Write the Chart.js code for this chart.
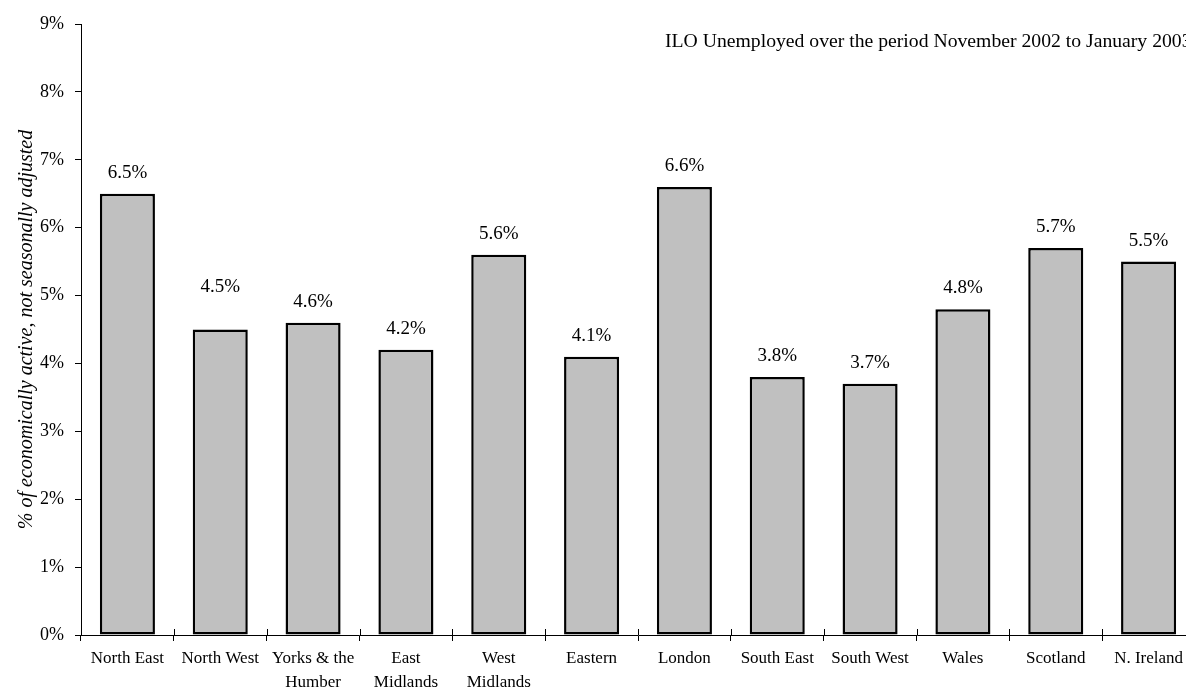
<!DOCTYPE html>
<html>
<head>
<meta charset="utf-8">
<script src="https://cdn.jsdelivr.net/npm/chart.js@4.4.1/dist/chart.umd.min.js"></script>
<style>
html, body { margin: 0; padding: 0; overflow: hidden; background: #fff; }
#wrap { position: relative; width: 1200px; height: 689px; }
</style>
</head>
<body>
<div id="wrap"><canvas id="c"></canvas></div>
<script>
const categories = [
  'North East', 'North West', ['Yorks & the', 'Humber'], ['East', 'Midlands'],
  ['West', 'Midlands'], 'Eastern', 'London', 'South East', 'South West',
  'Wales', 'Scotland', 'N. Ireland'
];
const unemploymentRate = [6.5, 4.5, 4.6, 4.2, 5.6, 4.1, 6.6, 3.8, 3.7, 4.8, 5.7, 5.5];
const yTicks = [0, 1, 2, 3, 4, 5, 6, 7, 8, 9];
const titleText = 'ILO Unemployed over the period November 2002 to January 2003';
const yAxisTitle = '% of economically active, not seasonally adjusted';

const SERIF = '"Liberation Serif", "Times New Roman", serif';

const labelPlugin = {
  id: 'valueLabels',
  afterDatasetsDraw(chart, args, opts) {
    const ctx = chart.ctx;
    const meta = chart.getDatasetMeta(0);
    ctx.save();
    ctx.font = opts.font;
    ctx.fillStyle = '#000';
    ctx.textAlign = 'center';
    ctx.textBaseline = 'alphabetic';
    meta.data.forEach((bar, i) => {
      const v = chart.data.datasets[0].data[i];
      const lift = opts.lift + (opts.extraLift[i] || 0);
      ctx.fillText(v.toFixed(1) + '%', bar.x, bar.y - lift);
    });
    ctx.restore();
  }
};

const annotPlugin = {
  id: 'annot',
  afterDraw(chart, args, opts) {
    const ctx = chart.ctx;
    const a = chart.chartArea;
    ctx.save();
    ctx.font = opts.font;
    ctx.fillStyle = '#000';
    ctx.textAlign = 'left';
    ctx.textBaseline = 'alphabetic';
    ctx.fillText(opts.text, a.left + opts.dx, a.top + opts.dy);
    // inward half of x-axis tick marks (ticks cross the axis)
    const xs = chart.scales.x;
    const n = chart.data.labels.length;
    const w = (xs.right - xs.left) / n;
    ctx.strokeStyle = '#000';
    ctx.lineWidth = 1;
    ctx.beginPath();
    for (let i = 1; i < n; i++) {
      const x = Math.round(xs.left + i * w) + 0.5;
      ctx.moveTo(x, a.bottom);
      ctx.lineTo(x, a.bottom - 6);
    }
    ctx.stroke();
    ctx.restore();
  }
};

new Chart(document.getElementById('c'), {
  type: 'bar',
  data: {
    labels: categories,
    datasets: [{
      data: unemploymentRate,
      backgroundColor: '#c0c0c0',
      borderColor: '#000',
      borderWidth: 2.5,
      borderSkipped: false,
      barPercentage: 0.593,
      categoryPercentage: 1.0
    }]
  },
  options: {
    responsive: true,
    maintainAspectRatio: false,
    animation: false,
    layout: { padding: { top: 24, right: 5, left: 0, bottom: 0 } },
    plugins: {
      legend: { display: false },
      tooltip: { enabled: false },
      valueLabels: { font: '19px ' + SERIF, lift: 16, extraLift: [0, 22] },
      annot: { font: '19.7px ' + SERIF, text: titleText, dx: 584, dy: 23 }
    },
    scales: {
      x: {
        grid: { display: true, drawOnChartArea: false, drawTicks: true, tickLength: 6, color: '#000', offset: true },
        border: { display: true, color: '#000', width: 1 },
        ticks: {
          color: '#000',
          font: { family: SERIF, size: 17, lineHeight: 1.41 },
          padding: 6,
          maxRotation: 0,
          autoSkip: false
        },
        afterFit(s) { s.height = 54; }
      },
      y: {
        min: 0,
        max: 9,
        afterBuildTicks(s) { s.ticks = yTicks.map(v => ({ value: v })); },
        grid: { display: true, drawOnChartArea: false, drawTicks: true, tickLength: 6, color: '#000' },
        border: { display: true, color: '#000', width: 1 },
        ticks: {
          color: '#000',
          font: { family: SERIF, size: 18 },
          padding: 11,
          callback: v => v + '%'
        },
        title: {
          display: true,
          text: yAxisTitle,
          color: '#000',
          font: { family: SERIF, size: 20, style: 'italic' },
          padding: { top: 15, bottom: 0 }
        },
        afterFit(s) { s.width = 81; }
      }
    }
  },
  plugins: [labelPlugin, annotPlugin]
});
</script>
</body>
</html>
